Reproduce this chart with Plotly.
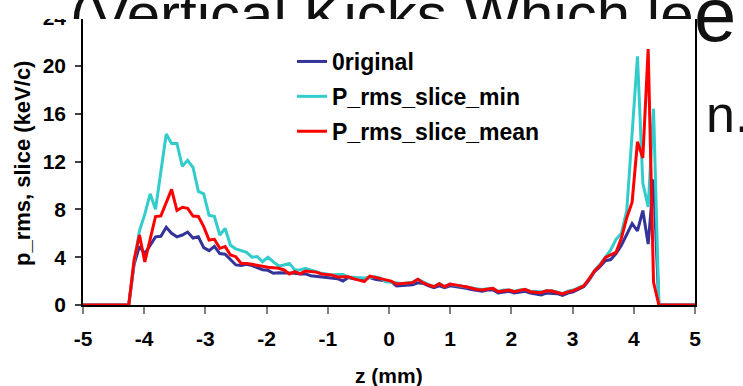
import plotly.graph_objects as go

# ---------------- data ----------------
z_start = -4.34
z_step = 0.0875
n_slices = 101
z_slices = [round(z_start + z_step * k, 4) for k in range(n_slices)]
z_all = [-5.0] + z_slices + [5.0]

original = [0, 0, 3.4, 4.9, 4.3, 5.0, 5.7, 5.75, 6.5, 6.0,
            5.7, 5.85, 6.1, 5.6, 5.7, 4.8, 4.55, 4.9, 4.3, 4.25,
            3.8, 3.35, 3.3, 3.4, 3.3, 3.1, 2.95, 2.9, 2.65, 2.7,
            2.7, 2.7, 2.65, 2.6, 2.6, 2.45, 2.4, 2.35, 2.3, 2.25,
            2.2, 2.0, 2.3, 2.2, 2.15, 2.2, 2.3, 2.15, 2.1, 2.0,
            1.95, 1.6, 1.62, 1.65, 1.7, 1.85, 1.8, 1.6, 1.45, 1.6,
            1.45, 1.6, 1.55, 1.5, 1.4, 1.3, 1.2, 1.15, 1.25, 1.25,
            1.0, 1.1, 1.15, 1.0, 1.1, 1.15, 1.0, 0.9, 0.85, 1.0,
            1.0, 0.95, 0.8, 1.0, 1.1, 1.3, 1.55, 2.1, 2.8, 3.2,
            3.7, 3.8, 4.3, 5.0, 5.9, 6.8, 6.2, 7.9, 5.1, 10.5,
            0]

slice_min = [0, 0, 3.6, 6.2, 7.6, 9.3, 8.0, 11.2, 14.3, 13.5,
             13.5, 11.6, 12.1, 11.5, 9.5, 9.3, 7.5, 7.4, 5.85, 6.4,
             5.0, 4.7, 4.55, 4.4, 4.0, 4.05, 3.62, 4.0, 3.6, 3.26,
             3.35, 3.48, 2.93, 2.93, 3.07, 2.9, 2.79, 2.65, 2.55, 2.5,
             2.55, 2.55, 2.35, 2.3, 2.25, 2.25, 2.3, 2.37, 2.25, 1.95,
             1.9, 1.85, 1.8, 1.85, 1.9, 2.15, 1.9, 1.7, 1.55, 1.8,
             1.55, 1.75, 1.65, 1.6, 1.55, 1.45, 1.35, 1.3, 1.35, 1.4,
             1.15, 1.25, 1.25, 1.15, 1.25, 1.3, 1.15, 1.1, 1.1, 1.2,
             1.2, 1.1, 0.95, 1.15, 1.25, 1.45, 1.65, 2.2, 2.9, 3.4,
             4.0, 4.6, 5.5, 6.0, 7.9, 14.4, 20.8, 10.2, 8.2, 16.4,
             0]

slice_mean = [0, 0, 3.76, 5.85, 3.6, 5.5, 7.4, 7.45, 8.6, 9.67,
              7.9, 8.17, 8.08, 7.44, 7.4, 6.55, 5.43, 5.49, 4.74, 4.88,
              4.18, 4.04, 3.48, 3.48, 3.4, 3.3, 3.2, 3.15, 3.12, 3.07,
              2.93, 2.6, 2.8, 2.6, 2.85, 2.8, 2.75, 2.6, 2.55, 2.5,
              2.35, 2.35, 2.37, 2.2, 2.1, 1.95, 2.42, 2.3, 2.2, 2.1,
              2.0, 1.75, 1.78, 1.85, 1.87, 2.15, 1.85, 1.67, 1.53, 1.78,
              1.53, 1.75, 1.65, 1.6, 1.52, 1.4, 1.3, 1.25, 1.35, 1.39,
              1.11, 1.2, 1.25, 1.11, 1.2, 1.31, 1.11, 1.05, 1.03, 1.2,
              1.17, 1.05, 0.92, 1.1, 1.2, 1.39, 1.6, 2.2, 2.87, 3.3,
              3.95, 4.2, 4.4, 5.6, 7.3, 8.6, 13.65, 12.3, 21.4, 1.9,
              0]

series_names = ["0riginal", "P_rms_slice_min", "P_rms_slice_mean"]
series_colors = ["#333399", "#33CCCC", "#FF0000"]
series_values = [original, slice_min, slice_mean]

x_tickvals = [-5, -4, -3, -2, -1, 0, 1, 2, 3, 4, 5]
x_ticktext = ["-5", "-4", "-3", "-2", "-1", "0", "1", "2", "3", "4", "5"]
y_tickvals = [0, 4, 8, 12, 16, 20, 24]
y_ticktext = ["0", "4", "8", "12", "16", "20", "24"]

x_title = "z (mm)"
y_title = "p_rms, slice (keV/c)"

# partially hidden slide text behind the chart
slide_line1 = "(Vertical Kicks Which lead to th"
slide_line1_end = "e"
slide_line2_end = "n."

# ---------------- figure ----------------
W, H = 743, 386
PL, PR, PT, PB = 83, 695, 18, 305
FONT = "Liberation Sans, Arial, sans-serif"

fig = go.Figure()
for name, vals, col in zip(series_names, series_values, series_colors):
    y_all = [0] + vals + [0]
    fig.add_trace(go.Scatter(
        x=z_all, y=y_all, mode="lines", name=name, legendgroup=name,
        line=dict(color=col, width=3), hoverinfo="skip",
    ))

# background slide text (clipped strips)
fig.add_trace(go.Scatter(
    x=[70], y=[H - 20], mode="text", text=[slide_line1],
    textposition="middle right", cliponaxis=True,
    textfont=dict(family=FONT, size=60, color="#111111"),
    xaxis="x2", yaxis="y2", showlegend=False, hoverinfo="skip",
))
fig.add_trace(go.Scatter(
    x=[694], y=[H - 22], mode="text", text=[slide_line1_end],
    textposition="middle right", cliponaxis=True,
    textfont=dict(family=FONT, size=76, color="#111111"),
    xaxis="x3", yaxis="y3", showlegend=False, hoverinfo="skip",
))
fig.add_trace(go.Scatter(
    x=[706], y=[H - 119], mode="text", text=[slide_line2_end],
    textposition="middle right", cliponaxis=True,
    textfont=dict(family=FONT, size=52, color="#111111"),
    xaxis="x3", yaxis="y3", showlegend=False, hoverinfo="skip",
))

tickfont = dict(family=FONT, size=21, color="black", weight="bold")

fig.update_layout(
    width=W, height=H,
    margin=dict(l=0, r=0, t=0, b=0),
    paper_bgcolor="white", plot_bgcolor="white",
    showlegend=True,
    legend=dict(
        x=292 / W, y=1 - 40 / H, xanchor="left", yanchor="top",
        font=dict(family=FONT, size=23, color="black", weight="bold"),
        bgcolor="rgba(0,0,0,0)", tracegroupgap=2,
    ),
    xaxis=dict(
        domain=[PL / W, PR / W], range=[-5, 5], anchor="y",
        tickmode="array", tickvals=x_tickvals, ticktext=x_ticktext,
        ticks="outside", ticklen=7, tickwidth=2, tickcolor="#808080",
        showline=True, linecolor="black", linewidth=1.5, mirror=True,
        showgrid=False, zeroline=False, tickfont=tickfont,
        automargin=False, ticklabelstandoff=7,
    ),
    yaxis=dict(
        domain=[1 - PB / H, 1 - PT / H], range=[0, 24], anchor="x",
        tickmode="array", tickvals=y_tickvals, ticktext=y_ticktext,
        ticks="outside", ticklen=6, tickwidth=1.5, tickcolor="#404040",
        showline=True, linecolor="black", linewidth=1.5, mirror=True,
        showgrid=False, zeroline=False, tickfont=tickfont,
        automargin=False, ticklabelstandoff=5,
    ),
    xaxis2=dict(domain=[0, 697 / W], range=[0, 697], anchor="y2",
                visible=False, fixedrange=True),
    yaxis2=dict(domain=[1 - 19 / H, 1], range=[H - 19, H], anchor="x2",
                visible=False, fixedrange=True),
    xaxis3=dict(domain=[697 / W, 1], range=[697, W], anchor="y3",
                visible=False, fixedrange=True),
    yaxis3=dict(domain=[0, 1], range=[0, H], anchor="x3",
                visible=False, fixedrange=True),
    annotations=[
        dict(text=x_title, x=389 / W, y=1 - 375 / H, xref="paper", yref="paper",
             xanchor="center", yanchor="middle", showarrow=False,
             font=dict(family=FONT, size=21, color="black", weight="bold")),
        dict(text=y_title, x=23 / W, y=1 - 164 / H, xref="paper", yref="paper",
             xanchor="center", yanchor="middle", showarrow=False, textangle=-90,
             font=dict(family=FONT, size=22, color="black", weight="bold")),
    ],
)

fig.write_html(
    "out.html",
    config={"displayModeBar": False},
    post_script="document.body.style.margin='0';document.body.style.overflow='hidden';",
)
